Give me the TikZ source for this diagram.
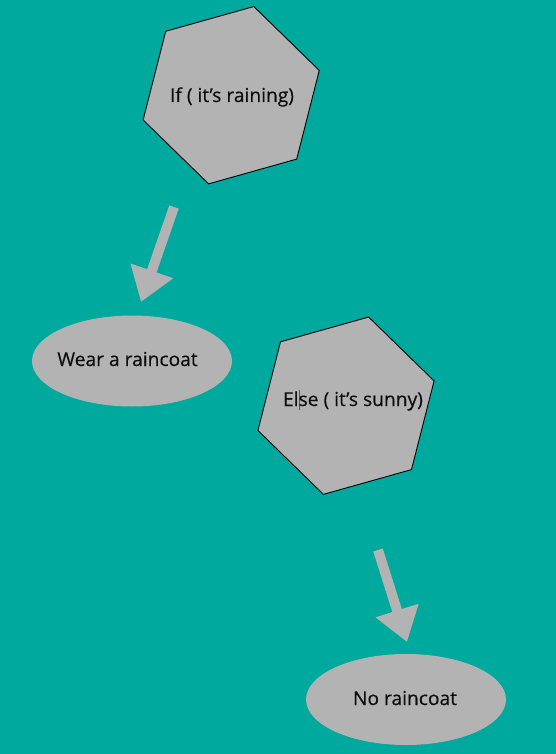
\documentclass[tikz,border=0pt]{standalone}
\usepackage{fontspec}
\setmainfont{Open Sans}
\newfontfamily\captionfont{Open Sans}[FakeBold=0.35]
\usetikzlibrary{shapes.geometric,arrows.meta}
\definecolor{bgteal}{HTML}{00A99D}
\definecolor{shapegrey}{HTML}{B3B3B3}
\definecolor{inkblack}{HTML}{0D0D0D}
\definecolor{cursorgrey}{HTML}{555555}
\tikzset{
  hexshape/.style={draw=black, line width=0.9pt, fill=shapegrey, line join=miter},
  ovalshape/.style={ellipse, fill=shapegrey, draw=none, minimum width=200pt, minimum height=91pt, inner sep=0pt},
  caption/.style={anchor=base, text=inkblack, inner sep=0pt, font=\captionfont\fontsize{19.2pt}{22pt}\selectfont},
  bigarrow/.style={draw=shapegrey, line width=10pt, -{Triangle[length=33pt,width=43pt]}}
}
\begin{document}
\begin{tikzpicture}[x=1pt,y=-1pt]
\fill[bgteal] (0,0) rectangle (556,754);
\useasboundingbox (0,0) rectangle (556,754);
% first hexagon
\coordinate (h1) at (231.2,95.2);
\draw[hexshape] ([shift={(h1)}]-15.7:91.5) -- ([shift={(h1)}]-75.7:91.5) -- ([shift={(h1)}]-135.7:91.5)
  -- ([shift={(h1)}]-195.7:91.5) -- ([shift={(h1)}]-255.7:91.5) -- ([shift={(h1)}]-315.7:91.5) -- cycle;
\node[caption] (t1) at (232,102) {If ( it’s raining)};
% second hexagon
\coordinate (h2) at (346,405.7);
\draw[hexshape] ([shift={(h2)}]-15.7:91.5) -- ([shift={(h2)}]-75.7:91.5) -- ([shift={(h2)}]-135.7:91.5)
  -- ([shift={(h2)}]-195.7:91.5) -- ([shift={(h2)}]-255.7:91.5) -- ([shift={(h2)}]-315.7:91.5) -- cycle;
\node[caption] (t2) at (353,406) {El\rlap{\kern0.2pt\textcolor{cursorgrey}{\rule[-4pt]{1.3pt}{20pt}}}se ( it’s sunny)};
% ellipses
\node[ovalshape] (e1) at (132,361) {};
\node[caption] (w1) at (127.5,366) {Wear a raincoat};
\node[ovalshape] (e2) at (406,699.5) {};
\node[caption] (n1) at (405,705) {No raincoat};
% arrows
\coordinate (a1s) at (174,207);
\coordinate (a1e) at (141,302);
\draw[bigarrow] (a1s) -- (a1e);
\coordinate (a2s) at (378,550);
\coordinate (a2e) at (407,642);
\draw[bigarrow] (a2s) -- (a2e);
\end{tikzpicture}
\end{document}
